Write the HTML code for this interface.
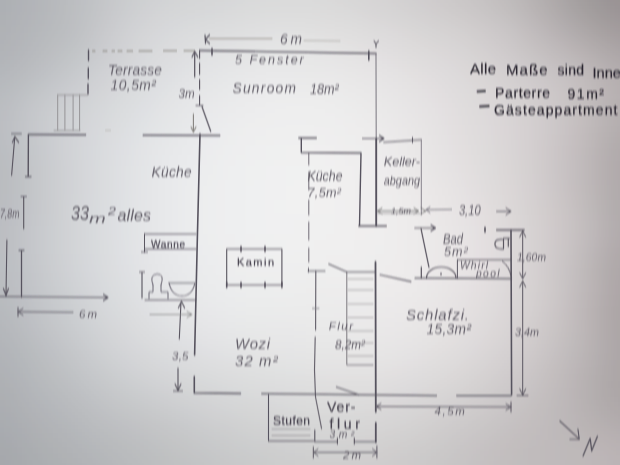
<!DOCTYPE html>
<html><head><meta charset="utf-8">
<style>
html,body{margin:0;padding:0;width:620px;height:465px;overflow:hidden;background:#d0d0d0;}
svg{position:absolute;left:0;top:0;}

text{font-family:"Liberation Sans",sans-serif;}
</style></head><body>
<svg id="bgs" width="620" height="465" viewBox="0 0 620 465"><defs><filter id="bb" x="-10%" y="-10%" width="120%" height="120%"><feGaussianBlur stdDeviation="9"/></filter></defs><g filter="url(#bb)" shape-rendering="crispEdges"><rect x="-40" y="-40" width="20" height="20" fill="#acaeb2"/><rect x="-20" y="-40" width="20" height="20" fill="#acaeb2"/><rect x="0" y="-40" width="20" height="20" fill="#adb0b4"/><rect x="20" y="-40" width="20" height="20" fill="#b1b4b7"/><rect x="40" y="-40" width="20" height="20" fill="#b5b7bb"/><rect x="60" y="-40" width="20" height="20" fill="#babcbf"/><rect x="80" y="-40" width="20" height="20" fill="#bfc1c4"/><rect x="100" y="-40" width="20" height="20" fill="#c5c7c9"/><rect x="120" y="-40" width="20" height="20" fill="#caccce"/><rect x="140" y="-40" width="20" height="20" fill="#ced0d2"/><rect x="160" y="-40" width="20" height="20" fill="#d1d2d4"/><rect x="180" y="-40" width="20" height="20" fill="#d3d4d6"/><rect x="200" y="-40" width="20" height="20" fill="#d5d6d7"/><rect x="220" y="-40" width="20" height="20" fill="#d6d7d8"/><rect x="240" y="-40" width="20" height="20" fill="#d8d8d9"/><rect x="260" y="-40" width="20" height="20" fill="#d9d9d9"/><rect x="280" y="-40" width="20" height="20" fill="#d9d9da"/><rect x="300" y="-40" width="20" height="20" fill="#d9d9d9"/><rect x="320" y="-40" width="20" height="20" fill="#d8d8d8"/><rect x="340" y="-40" width="20" height="20" fill="#d7d6d6"/><rect x="360" y="-40" width="20" height="20" fill="#d5d4d4"/><rect x="380" y="-40" width="20" height="20" fill="#d3d1d1"/><rect x="400" y="-40" width="20" height="20" fill="#d0cecf"/><rect x="420" y="-40" width="20" height="20" fill="#cecbcc"/><rect x="440" y="-40" width="20" height="20" fill="#cbc8c8"/><rect x="460" y="-40" width="20" height="20" fill="#c7c4c4"/><rect x="480" y="-40" width="20" height="20" fill="#c3bfc0"/><rect x="500" y="-40" width="20" height="20" fill="#bdb9ba"/><rect x="520" y="-40" width="20" height="20" fill="#b6b2b2"/><rect x="540" y="-40" width="20" height="20" fill="#aea9aa"/><rect x="560" y="-40" width="20" height="20" fill="#a6a1a2"/><rect x="580" y="-40" width="20" height="20" fill="#9f9a9a"/><rect x="600" y="-40" width="20" height="20" fill="#999394"/><rect x="620" y="-40" width="20" height="20" fill="#979091"/><rect x="640" y="-40" width="20" height="20" fill="#979091"/><rect x="660" y="-40" width="20" height="20" fill="#979091"/><rect x="-40" y="-20" width="20" height="20" fill="#acaeb2"/><rect x="-20" y="-20" width="20" height="20" fill="#acaeb2"/><rect x="0" y="-20" width="20" height="20" fill="#adb0b4"/><rect x="20" y="-20" width="20" height="20" fill="#b1b4b7"/><rect x="40" y="-20" width="20" height="20" fill="#b5b7bb"/><rect x="60" y="-20" width="20" height="20" fill="#babcbf"/><rect x="80" y="-20" width="20" height="20" fill="#bfc1c4"/><rect x="100" y="-20" width="20" height="20" fill="#c5c7c9"/><rect x="120" y="-20" width="20" height="20" fill="#caccce"/><rect x="140" y="-20" width="20" height="20" fill="#ced0d2"/><rect x="160" y="-20" width="20" height="20" fill="#d1d2d4"/><rect x="180" y="-20" width="20" height="20" fill="#d3d4d6"/><rect x="200" y="-20" width="20" height="20" fill="#d5d6d7"/><rect x="220" y="-20" width="20" height="20" fill="#d6d7d8"/><rect x="240" y="-20" width="20" height="20" fill="#d8d8d9"/><rect x="260" y="-20" width="20" height="20" fill="#d9d9d9"/><rect x="280" y="-20" width="20" height="20" fill="#d9d9da"/><rect x="300" y="-20" width="20" height="20" fill="#d9d9d9"/><rect x="320" y="-20" width="20" height="20" fill="#d8d8d8"/><rect x="340" y="-20" width="20" height="20" fill="#d7d6d6"/><rect x="360" y="-20" width="20" height="20" fill="#d5d4d4"/><rect x="380" y="-20" width="20" height="20" fill="#d3d1d1"/><rect x="400" y="-20" width="20" height="20" fill="#d0cecf"/><rect x="420" y="-20" width="20" height="20" fill="#cecbcc"/><rect x="440" y="-20" width="20" height="20" fill="#cbc8c8"/><rect x="460" y="-20" width="20" height="20" fill="#c7c4c4"/><rect x="480" y="-20" width="20" height="20" fill="#c3bfc0"/><rect x="500" y="-20" width="20" height="20" fill="#bdb9ba"/><rect x="520" y="-20" width="20" height="20" fill="#b6b2b2"/><rect x="540" y="-20" width="20" height="20" fill="#aea9aa"/><rect x="560" y="-20" width="20" height="20" fill="#a6a1a2"/><rect x="580" y="-20" width="20" height="20" fill="#9f9a9a"/><rect x="600" y="-20" width="20" height="20" fill="#999394"/><rect x="620" y="-20" width="20" height="20" fill="#979091"/><rect x="640" y="-20" width="20" height="20" fill="#979091"/><rect x="660" y="-20" width="20" height="20" fill="#979091"/><rect x="-40" y="0" width="20" height="20" fill="#acafb3"/><rect x="-20" y="0" width="20" height="20" fill="#acafb3"/><rect x="0" y="0" width="20" height="20" fill="#aeb1b5"/><rect x="20" y="0" width="20" height="20" fill="#b2b4b8"/><rect x="40" y="0" width="20" height="20" fill="#b6b8bb"/><rect x="60" y="0" width="20" height="20" fill="#bbbdc0"/><rect x="80" y="0" width="20" height="20" fill="#c0c2c5"/><rect x="100" y="0" width="20" height="20" fill="#c7c8cb"/><rect x="120" y="0" width="20" height="20" fill="#ccced0"/><rect x="140" y="0" width="20" height="20" fill="#d1d2d4"/><rect x="160" y="0" width="20" height="20" fill="#d4d5d7"/><rect x="180" y="0" width="20" height="20" fill="#d6d7d8"/><rect x="200" y="0" width="20" height="20" fill="#d7d8d9"/><rect x="220" y="0" width="20" height="20" fill="#d9d9da"/><rect x="240" y="0" width="20" height="20" fill="#dadbdb"/><rect x="260" y="0" width="20" height="20" fill="#dbdcdc"/><rect x="280" y="0" width="20" height="20" fill="#dcdcdc"/><rect x="300" y="0" width="20" height="20" fill="#dcdcdc"/><rect x="320" y="0" width="20" height="20" fill="#dbdada"/><rect x="340" y="0" width="20" height="20" fill="#d9d9d9"/><rect x="360" y="0" width="20" height="20" fill="#d8d6d7"/><rect x="380" y="0" width="20" height="20" fill="#d6d4d4"/><rect x="400" y="0" width="20" height="20" fill="#d3d1d2"/><rect x="420" y="0" width="20" height="20" fill="#d1cecf"/><rect x="440" y="0" width="20" height="20" fill="#cecbcb"/><rect x="460" y="0" width="20" height="20" fill="#cbc7c8"/><rect x="480" y="0" width="20" height="20" fill="#c6c3c3"/><rect x="500" y="0" width="20" height="20" fill="#c1bdbd"/><rect x="520" y="0" width="20" height="20" fill="#bab5b6"/><rect x="540" y="0" width="20" height="20" fill="#b2adad"/><rect x="560" y="0" width="20" height="20" fill="#a9a4a5"/><rect x="580" y="0" width="20" height="20" fill="#a29d9d"/><rect x="600" y="0" width="20" height="20" fill="#9c9697"/><rect x="620" y="0" width="20" height="20" fill="#9a9394"/><rect x="640" y="0" width="20" height="20" fill="#9a9394"/><rect x="660" y="0" width="20" height="20" fill="#9a9394"/><rect x="-40" y="20" width="20" height="20" fill="#aeb0b4"/><rect x="-20" y="20" width="20" height="20" fill="#aeb0b4"/><rect x="0" y="20" width="20" height="20" fill="#b0b2b6"/><rect x="20" y="20" width="20" height="20" fill="#b4b6b9"/><rect x="40" y="20" width="20" height="20" fill="#b7babd"/><rect x="60" y="20" width="20" height="20" fill="#bcbec1"/><rect x="80" y="20" width="20" height="20" fill="#c3c4c7"/><rect x="100" y="20" width="20" height="20" fill="#cacbce"/><rect x="120" y="20" width="20" height="20" fill="#d0d1d4"/><rect x="140" y="20" width="20" height="20" fill="#d5d6d8"/><rect x="160" y="20" width="20" height="20" fill="#d8d9db"/><rect x="180" y="20" width="20" height="20" fill="#dadbdd"/><rect x="200" y="20" width="20" height="20" fill="#dcddde"/><rect x="220" y="20" width="20" height="20" fill="#dddedf"/><rect x="240" y="20" width="20" height="20" fill="#dfdfe0"/><rect x="260" y="20" width="20" height="20" fill="#e0e0e1"/><rect x="280" y="20" width="20" height="20" fill="#e1e1e1"/><rect x="300" y="20" width="20" height="20" fill="#e0e0e0"/><rect x="320" y="20" width="20" height="20" fill="#e0dfdf"/><rect x="340" y="20" width="20" height="20" fill="#dfdede"/><rect x="360" y="20" width="20" height="20" fill="#dddcdc"/><rect x="380" y="20" width="20" height="20" fill="#dbd9da"/><rect x="400" y="20" width="20" height="20" fill="#d9d7d7"/><rect x="420" y="20" width="20" height="20" fill="#d6d4d4"/><rect x="440" y="20" width="20" height="20" fill="#d4d1d1"/><rect x="460" y="20" width="20" height="20" fill="#d1cece"/><rect x="480" y="20" width="20" height="20" fill="#cdc9ca"/><rect x="500" y="20" width="20" height="20" fill="#c8c4c5"/><rect x="520" y="20" width="20" height="20" fill="#c1bcbd"/><rect x="540" y="20" width="20" height="20" fill="#b9b4b5"/><rect x="560" y="20" width="20" height="20" fill="#b1acad"/><rect x="580" y="20" width="20" height="20" fill="#aaa5a5"/><rect x="600" y="20" width="20" height="20" fill="#a49e9f"/><rect x="620" y="20" width="20" height="20" fill="#a19a9b"/><rect x="640" y="20" width="20" height="20" fill="#a19a9b"/><rect x="660" y="20" width="20" height="20" fill="#a19a9b"/><rect x="-40" y="40" width="20" height="20" fill="#afb2b6"/><rect x="-20" y="40" width="20" height="20" fill="#afb2b6"/><rect x="0" y="40" width="20" height="20" fill="#b2b4b8"/><rect x="20" y="40" width="20" height="20" fill="#b6b8bc"/><rect x="40" y="40" width="20" height="20" fill="#bbbdc0"/><rect x="60" y="40" width="20" height="20" fill="#c0c2c5"/><rect x="80" y="40" width="20" height="20" fill="#c6c8cb"/><rect x="100" y="40" width="20" height="20" fill="#cdced1"/><rect x="120" y="40" width="20" height="20" fill="#d3d4d6"/><rect x="140" y="40" width="20" height="20" fill="#d8d9db"/><rect x="160" y="40" width="20" height="20" fill="#dbdcde"/><rect x="180" y="40" width="20" height="20" fill="#dedfe0"/><rect x="200" y="40" width="20" height="20" fill="#e0e1e2"/><rect x="220" y="40" width="20" height="20" fill="#e2e2e3"/><rect x="240" y="40" width="20" height="20" fill="#e3e4e4"/><rect x="260" y="40" width="20" height="20" fill="#e4e5e5"/><rect x="280" y="40" width="20" height="20" fill="#e5e5e5"/><rect x="300" y="40" width="20" height="20" fill="#e5e5e5"/><rect x="320" y="40" width="20" height="20" fill="#e4e4e4"/><rect x="340" y="40" width="20" height="20" fill="#e3e2e2"/><rect x="360" y="40" width="20" height="20" fill="#e2e0e1"/><rect x="380" y="40" width="20" height="20" fill="#e0dedf"/><rect x="400" y="40" width="20" height="20" fill="#dedcdc"/><rect x="420" y="40" width="20" height="20" fill="#dcd9d9"/><rect x="440" y="40" width="20" height="20" fill="#d9d6d7"/><rect x="460" y="40" width="20" height="20" fill="#d6d3d3"/><rect x="480" y="40" width="20" height="20" fill="#d2cecf"/><rect x="500" y="40" width="20" height="20" fill="#cdc9ca"/><rect x="520" y="40" width="20" height="20" fill="#c7c3c3"/><rect x="540" y="40" width="20" height="20" fill="#c1bcbd"/><rect x="560" y="40" width="20" height="20" fill="#bbb5b6"/><rect x="580" y="40" width="20" height="20" fill="#b4aeaf"/><rect x="600" y="40" width="20" height="20" fill="#ada7a8"/><rect x="620" y="40" width="20" height="20" fill="#a9a3a4"/><rect x="640" y="40" width="20" height="20" fill="#a9a3a4"/><rect x="660" y="40" width="20" height="20" fill="#a9a3a4"/><rect x="-40" y="60" width="20" height="20" fill="#b2b5b9"/><rect x="-20" y="60" width="20" height="20" fill="#b2b5b9"/><rect x="0" y="60" width="20" height="20" fill="#b5b7bb"/><rect x="20" y="60" width="20" height="20" fill="#babcc0"/><rect x="40" y="60" width="20" height="20" fill="#bfc1c5"/><rect x="60" y="60" width="20" height="20" fill="#c5c7ca"/><rect x="80" y="60" width="20" height="20" fill="#cbcdd0"/><rect x="100" y="60" width="20" height="20" fill="#d1d2d5"/><rect x="120" y="60" width="20" height="20" fill="#d6d7da"/><rect x="140" y="60" width="20" height="20" fill="#dadcde"/><rect x="160" y="60" width="20" height="20" fill="#dedfe1"/><rect x="180" y="60" width="20" height="20" fill="#e1e2e4"/><rect x="200" y="60" width="20" height="20" fill="#e3e4e6"/><rect x="220" y="60" width="20" height="20" fill="#e5e6e7"/><rect x="240" y="60" width="20" height="20" fill="#e7e7e8"/><rect x="260" y="60" width="20" height="20" fill="#e8e8e9"/><rect x="280" y="60" width="20" height="20" fill="#e8e8e9"/><rect x="300" y="60" width="20" height="20" fill="#e8e8e8"/><rect x="320" y="60" width="20" height="20" fill="#e8e7e8"/><rect x="340" y="60" width="20" height="20" fill="#e7e6e6"/><rect x="360" y="60" width="20" height="20" fill="#e6e4e5"/><rect x="380" y="60" width="20" height="20" fill="#e4e2e3"/><rect x="400" y="60" width="20" height="20" fill="#e2e0e0"/><rect x="420" y="60" width="20" height="20" fill="#e0ddde"/><rect x="440" y="60" width="20" height="20" fill="#dddadb"/><rect x="460" y="60" width="20" height="20" fill="#dad7d7"/><rect x="480" y="60" width="20" height="20" fill="#d7d3d3"/><rect x="500" y="60" width="20" height="20" fill="#d2cecf"/><rect x="520" y="60" width="20" height="20" fill="#cdc9ca"/><rect x="540" y="60" width="20" height="20" fill="#c8c3c4"/><rect x="560" y="60" width="20" height="20" fill="#c3bebf"/><rect x="580" y="60" width="20" height="20" fill="#bdb7b8"/><rect x="600" y="60" width="20" height="20" fill="#b5afb0"/><rect x="620" y="60" width="20" height="20" fill="#b1aaab"/><rect x="640" y="60" width="20" height="20" fill="#b1aaab"/><rect x="660" y="60" width="20" height="20" fill="#b1aaab"/><rect x="-40" y="80" width="20" height="20" fill="#b6b9bd"/><rect x="-20" y="80" width="20" height="20" fill="#b6b9bd"/><rect x="0" y="80" width="20" height="20" fill="#b9bcc0"/><rect x="20" y="80" width="20" height="20" fill="#bfc2c5"/><rect x="40" y="80" width="20" height="20" fill="#c5c7cb"/><rect x="60" y="80" width="20" height="20" fill="#cbccd0"/><rect x="80" y="80" width="20" height="20" fill="#d0d1d4"/><rect x="100" y="80" width="20" height="20" fill="#d5d6d9"/><rect x="120" y="80" width="20" height="20" fill="#d9dbdd"/><rect x="140" y="80" width="20" height="20" fill="#dddfe1"/><rect x="160" y="80" width="20" height="20" fill="#e1e2e4"/><rect x="180" y="80" width="20" height="20" fill="#e4e5e7"/><rect x="200" y="80" width="20" height="20" fill="#e6e7e8"/><rect x="220" y="80" width="20" height="20" fill="#e8e9ea"/><rect x="240" y="80" width="20" height="20" fill="#eaeaeb"/><rect x="260" y="80" width="20" height="20" fill="#ebebec"/><rect x="280" y="80" width="20" height="20" fill="#ebebec"/><rect x="300" y="80" width="20" height="20" fill="#ebebeb"/><rect x="320" y="80" width="20" height="20" fill="#ebebeb"/><rect x="340" y="80" width="20" height="20" fill="#eae9e9"/><rect x="360" y="80" width="20" height="20" fill="#e9e8e8"/><rect x="380" y="80" width="20" height="20" fill="#e7e5e6"/><rect x="400" y="80" width="20" height="20" fill="#e5e3e3"/><rect x="420" y="80" width="20" height="20" fill="#e3e0e1"/><rect x="440" y="80" width="20" height="20" fill="#e0ddde"/><rect x="460" y="80" width="20" height="20" fill="#dddada"/><rect x="480" y="80" width="20" height="20" fill="#dad6d7"/><rect x="500" y="80" width="20" height="20" fill="#d6d2d2"/><rect x="520" y="80" width="20" height="20" fill="#d2cdce"/><rect x="540" y="80" width="20" height="20" fill="#cdc8c9"/><rect x="560" y="80" width="20" height="20" fill="#c8c2c3"/><rect x="580" y="80" width="20" height="20" fill="#c1bbbc"/><rect x="600" y="80" width="20" height="20" fill="#b9b3b4"/><rect x="620" y="80" width="20" height="20" fill="#b4aeaf"/><rect x="640" y="80" width="20" height="20" fill="#b4aeaf"/><rect x="660" y="80" width="20" height="20" fill="#b4aeaf"/><rect x="-40" y="100" width="20" height="20" fill="#b9bcc0"/><rect x="-20" y="100" width="20" height="20" fill="#b9bcc0"/><rect x="0" y="100" width="20" height="20" fill="#bdbfc3"/><rect x="20" y="100" width="20" height="20" fill="#c4c6ca"/><rect x="40" y="100" width="20" height="20" fill="#cacccf"/><rect x="60" y="100" width="20" height="20" fill="#cfd1d4"/><rect x="80" y="100" width="20" height="20" fill="#d3d5d8"/><rect x="100" y="100" width="20" height="20" fill="#d8dadc"/><rect x="120" y="100" width="20" height="20" fill="#dcdee0"/><rect x="140" y="100" width="20" height="20" fill="#e0e1e4"/><rect x="160" y="100" width="20" height="20" fill="#e4e5e6"/><rect x="180" y="100" width="20" height="20" fill="#e6e7e9"/><rect x="200" y="100" width="20" height="20" fill="#e9e9eb"/><rect x="220" y="100" width="20" height="20" fill="#ebebec"/><rect x="240" y="100" width="20" height="20" fill="#ececed"/><rect x="260" y="100" width="20" height="20" fill="#ededee"/><rect x="280" y="100" width="20" height="20" fill="#eeeeee"/><rect x="300" y="100" width="20" height="20" fill="#eeeeee"/><rect x="320" y="100" width="20" height="20" fill="#ededed"/><rect x="340" y="100" width="20" height="20" fill="#ececec"/><rect x="360" y="100" width="20" height="20" fill="#ebeaea"/><rect x="380" y="100" width="20" height="20" fill="#e9e8e8"/><rect x="400" y="100" width="20" height="20" fill="#e7e5e6"/><rect x="420" y="100" width="20" height="20" fill="#e5e2e3"/><rect x="440" y="100" width="20" height="20" fill="#e2dfe0"/><rect x="460" y="100" width="20" height="20" fill="#dfdcdc"/><rect x="480" y="100" width="20" height="20" fill="#dcd8d9"/><rect x="500" y="100" width="20" height="20" fill="#d8d4d4"/><rect x="520" y="100" width="20" height="20" fill="#d3cfcf"/><rect x="540" y="100" width="20" height="20" fill="#cec9ca"/><rect x="560" y="100" width="20" height="20" fill="#c8c3c3"/><rect x="580" y="100" width="20" height="20" fill="#c1bbbc"/><rect x="600" y="100" width="20" height="20" fill="#b8b2b3"/><rect x="620" y="100" width="20" height="20" fill="#b4adae"/><rect x="640" y="100" width="20" height="20" fill="#b4adae"/><rect x="660" y="100" width="20" height="20" fill="#b4adae"/><rect x="-40" y="120" width="20" height="20" fill="#babdc1"/><rect x="-20" y="120" width="20" height="20" fill="#babdc1"/><rect x="0" y="120" width="20" height="20" fill="#bec0c4"/><rect x="20" y="120" width="20" height="20" fill="#c5c7ca"/><rect x="40" y="120" width="20" height="20" fill="#cbcdd0"/><rect x="60" y="120" width="20" height="20" fill="#d0d2d6"/><rect x="80" y="120" width="20" height="20" fill="#d6d7da"/><rect x="100" y="120" width="20" height="20" fill="#dadcde"/><rect x="120" y="120" width="20" height="20" fill="#dee0e2"/><rect x="140" y="120" width="20" height="20" fill="#e2e4e6"/><rect x="160" y="120" width="20" height="20" fill="#e5e7e8"/><rect x="180" y="120" width="20" height="20" fill="#e8e9eb"/><rect x="200" y="120" width="20" height="20" fill="#eaebed"/><rect x="220" y="120" width="20" height="20" fill="#ecedee"/><rect x="240" y="120" width="20" height="20" fill="#eeeeef"/><rect x="260" y="120" width="20" height="20" fill="#efefef"/><rect x="280" y="120" width="20" height="20" fill="#efeff0"/><rect x="300" y="120" width="20" height="20" fill="#efefef"/><rect x="320" y="120" width="20" height="20" fill="#efeeef"/><rect x="340" y="120" width="20" height="20" fill="#eeeded"/><rect x="360" y="120" width="20" height="20" fill="#edecec"/><rect x="380" y="120" width="20" height="20" fill="#ebe9ea"/><rect x="400" y="120" width="20" height="20" fill="#e9e7e7"/><rect x="420" y="120" width="20" height="20" fill="#e6e4e4"/><rect x="440" y="120" width="20" height="20" fill="#e3e0e1"/><rect x="460" y="120" width="20" height="20" fill="#e0dddd"/><rect x="480" y="120" width="20" height="20" fill="#ddd9da"/><rect x="500" y="120" width="20" height="20" fill="#d9d4d5"/><rect x="520" y="120" width="20" height="20" fill="#d4cfd0"/><rect x="540" y="120" width="20" height="20" fill="#cec9ca"/><rect x="560" y="120" width="20" height="20" fill="#c7c1c2"/><rect x="580" y="120" width="20" height="20" fill="#bfb9ba"/><rect x="600" y="120" width="20" height="20" fill="#b6b0b1"/><rect x="620" y="120" width="20" height="20" fill="#b2abac"/><rect x="640" y="120" width="20" height="20" fill="#b2abac"/><rect x="660" y="120" width="20" height="20" fill="#b2abac"/><rect x="-40" y="140" width="20" height="20" fill="#b9bbbf"/><rect x="-20" y="140" width="20" height="20" fill="#b9bbbf"/><rect x="0" y="140" width="20" height="20" fill="#bcbfc3"/><rect x="20" y="140" width="20" height="20" fill="#c3c6c9"/><rect x="40" y="140" width="20" height="20" fill="#caccd0"/><rect x="60" y="140" width="20" height="20" fill="#d1d3d6"/><rect x="80" y="140" width="20" height="20" fill="#d6d8db"/><rect x="100" y="140" width="20" height="20" fill="#dbdde0"/><rect x="120" y="140" width="20" height="20" fill="#e0e1e4"/><rect x="140" y="140" width="20" height="20" fill="#e4e5e7"/><rect x="160" y="140" width="20" height="20" fill="#e7e8ea"/><rect x="180" y="140" width="20" height="20" fill="#e9eaec"/><rect x="200" y="140" width="20" height="20" fill="#ececee"/><rect x="220" y="140" width="20" height="20" fill="#edeeef"/><rect x="240" y="140" width="20" height="20" fill="#efeff0"/><rect x="260" y="140" width="20" height="20" fill="#eff0f0"/><rect x="280" y="140" width="20" height="20" fill="#f0f0f0"/><rect x="300" y="140" width="20" height="20" fill="#f0f0f0"/><rect x="320" y="140" width="20" height="20" fill="#f0eff0"/><rect x="340" y="140" width="20" height="20" fill="#efeeee"/><rect x="360" y="140" width="20" height="20" fill="#eeeded"/><rect x="380" y="140" width="20" height="20" fill="#eceaeb"/><rect x="400" y="140" width="20" height="20" fill="#eae8e8"/><rect x="420" y="140" width="20" height="20" fill="#e7e5e5"/><rect x="440" y="140" width="20" height="20" fill="#e4e1e2"/><rect x="460" y="140" width="20" height="20" fill="#e1dede"/><rect x="480" y="140" width="20" height="20" fill="#dddada"/><rect x="500" y="140" width="20" height="20" fill="#d9d5d6"/><rect x="520" y="140" width="20" height="20" fill="#d4cfd0"/><rect x="540" y="140" width="20" height="20" fill="#cdc8c9"/><rect x="560" y="140" width="20" height="20" fill="#c6c0c1"/><rect x="580" y="140" width="20" height="20" fill="#bdb7b8"/><rect x="600" y="140" width="20" height="20" fill="#b3adae"/><rect x="620" y="140" width="20" height="20" fill="#afa8a9"/><rect x="640" y="140" width="20" height="20" fill="#afa8a9"/><rect x="660" y="140" width="20" height="20" fill="#afa8a9"/><rect x="-40" y="160" width="20" height="20" fill="#b8babe"/><rect x="-20" y="160" width="20" height="20" fill="#b8babe"/><rect x="0" y="160" width="20" height="20" fill="#bbbdc1"/><rect x="20" y="160" width="20" height="20" fill="#c2c5c8"/><rect x="40" y="160" width="20" height="20" fill="#cacccf"/><rect x="60" y="160" width="20" height="20" fill="#d0d2d5"/><rect x="80" y="160" width="20" height="20" fill="#d7d8db"/><rect x="100" y="160" width="20" height="20" fill="#dcdee0"/><rect x="120" y="160" width="20" height="20" fill="#e1e2e4"/><rect x="140" y="160" width="20" height="20" fill="#e4e6e8"/><rect x="160" y="160" width="20" height="20" fill="#e8e9eb"/><rect x="180" y="160" width="20" height="20" fill="#eaebed"/><rect x="200" y="160" width="20" height="20" fill="#ecedee"/><rect x="220" y="160" width="20" height="20" fill="#eeeff0"/><rect x="240" y="160" width="20" height="20" fill="#eff0f0"/><rect x="260" y="160" width="20" height="20" fill="#f0f0f1"/><rect x="280" y="160" width="20" height="20" fill="#f0f1f1"/><rect x="300" y="160" width="20" height="20" fill="#f1f1f1"/><rect x="320" y="160" width="20" height="20" fill="#f0f0f0"/><rect x="340" y="160" width="20" height="20" fill="#f0efef"/><rect x="360" y="160" width="20" height="20" fill="#efedee"/><rect x="380" y="160" width="20" height="20" fill="#edebec"/><rect x="400" y="160" width="20" height="20" fill="#ebe9e9"/><rect x="420" y="160" width="20" height="20" fill="#e8e6e6"/><rect x="440" y="160" width="20" height="20" fill="#e5e2e3"/><rect x="460" y="160" width="20" height="20" fill="#e2dfdf"/><rect x="480" y="160" width="20" height="20" fill="#dedbdb"/><rect x="500" y="160" width="20" height="20" fill="#dad6d6"/><rect x="520" y="160" width="20" height="20" fill="#d4d0d0"/><rect x="540" y="160" width="20" height="20" fill="#cdc8c9"/><rect x="560" y="160" width="20" height="20" fill="#c5c0c1"/><rect x="580" y="160" width="20" height="20" fill="#bcb6b7"/><rect x="600" y="160" width="20" height="20" fill="#b3acad"/><rect x="620" y="160" width="20" height="20" fill="#aea8a9"/><rect x="640" y="160" width="20" height="20" fill="#aea8a9"/><rect x="660" y="160" width="20" height="20" fill="#aea8a9"/><rect x="-40" y="180" width="20" height="20" fill="#b8babe"/><rect x="-20" y="180" width="20" height="20" fill="#b8babe"/><rect x="0" y="180" width="20" height="20" fill="#bbbec1"/><rect x="20" y="180" width="20" height="20" fill="#c2c5c8"/><rect x="40" y="180" width="20" height="20" fill="#cacccf"/><rect x="60" y="180" width="20" height="20" fill="#d0d2d5"/><rect x="80" y="180" width="20" height="20" fill="#d7d8db"/><rect x="100" y="180" width="20" height="20" fill="#dcdee0"/><rect x="120" y="180" width="20" height="20" fill="#e1e2e5"/><rect x="140" y="180" width="20" height="20" fill="#e5e6e8"/><rect x="160" y="180" width="20" height="20" fill="#e8e9eb"/><rect x="180" y="180" width="20" height="20" fill="#ebeced"/><rect x="200" y="180" width="20" height="20" fill="#edeeef"/><rect x="220" y="180" width="20" height="20" fill="#eeeff0"/><rect x="240" y="180" width="20" height="20" fill="#eff0f1"/><rect x="260" y="180" width="20" height="20" fill="#f0f0f1"/><rect x="280" y="180" width="20" height="20" fill="#f1f1f1"/><rect x="300" y="180" width="20" height="20" fill="#f1f1f1"/><rect x="320" y="180" width="20" height="20" fill="#f1f0f0"/><rect x="340" y="180" width="20" height="20" fill="#f0efef"/><rect x="360" y="180" width="20" height="20" fill="#efeeee"/><rect x="380" y="180" width="20" height="20" fill="#eeecec"/><rect x="400" y="180" width="20" height="20" fill="#eceaea"/><rect x="420" y="180" width="20" height="20" fill="#eae7e7"/><rect x="440" y="180" width="20" height="20" fill="#e7e4e4"/><rect x="460" y="180" width="20" height="20" fill="#e3e0e1"/><rect x="480" y="180" width="20" height="20" fill="#dfdcdc"/><rect x="500" y="180" width="20" height="20" fill="#dbd7d7"/><rect x="520" y="180" width="20" height="20" fill="#d5d0d1"/><rect x="540" y="180" width="20" height="20" fill="#cec9ca"/><rect x="560" y="180" width="20" height="20" fill="#c6c0c1"/><rect x="580" y="180" width="20" height="20" fill="#bdb7b8"/><rect x="600" y="180" width="20" height="20" fill="#b3adae"/><rect x="620" y="180" width="20" height="20" fill="#aea8a9"/><rect x="640" y="180" width="20" height="20" fill="#aea8a9"/><rect x="660" y="180" width="20" height="20" fill="#aea8a9"/><rect x="-40" y="200" width="20" height="20" fill="#b9bbbf"/><rect x="-20" y="200" width="20" height="20" fill="#b9bbbf"/><rect x="0" y="200" width="20" height="20" fill="#bcbec2"/><rect x="20" y="200" width="20" height="20" fill="#c3c5c9"/><rect x="40" y="200" width="20" height="20" fill="#cacccf"/><rect x="60" y="200" width="20" height="20" fill="#d1d3d6"/><rect x="80" y="200" width="20" height="20" fill="#d7d9dc"/><rect x="100" y="200" width="20" height="20" fill="#dcdee1"/><rect x="120" y="200" width="20" height="20" fill="#e1e3e5"/><rect x="140" y="200" width="20" height="20" fill="#e5e6e8"/><rect x="160" y="200" width="20" height="20" fill="#e8e9eb"/><rect x="180" y="200" width="20" height="20" fill="#ebeced"/><rect x="200" y="200" width="20" height="20" fill="#edeeef"/><rect x="220" y="200" width="20" height="20" fill="#eeeff0"/><rect x="240" y="200" width="20" height="20" fill="#eff0f1"/><rect x="260" y="200" width="20" height="20" fill="#f0f1f1"/><rect x="280" y="200" width="20" height="20" fill="#f1f1f1"/><rect x="300" y="200" width="20" height="20" fill="#f1f1f1"/><rect x="320" y="200" width="20" height="20" fill="#f1f0f0"/><rect x="340" y="200" width="20" height="20" fill="#f0eff0"/><rect x="360" y="200" width="20" height="20" fill="#f0eeee"/><rect x="380" y="200" width="20" height="20" fill="#eeeded"/><rect x="400" y="200" width="20" height="20" fill="#edebeb"/><rect x="420" y="200" width="20" height="20" fill="#ebe8e8"/><rect x="440" y="200" width="20" height="20" fill="#e8e5e5"/><rect x="460" y="200" width="20" height="20" fill="#e5e1e2"/><rect x="480" y="200" width="20" height="20" fill="#e1dddd"/><rect x="500" y="200" width="20" height="20" fill="#dcd8d8"/><rect x="520" y="200" width="20" height="20" fill="#d6d2d2"/><rect x="540" y="200" width="20" height="20" fill="#d0cbcb"/><rect x="560" y="200" width="20" height="20" fill="#c8c2c3"/><rect x="580" y="200" width="20" height="20" fill="#beb9b9"/><rect x="600" y="200" width="20" height="20" fill="#b4aeaf"/><rect x="620" y="200" width="20" height="20" fill="#afa9aa"/><rect x="640" y="200" width="20" height="20" fill="#afa9aa"/><rect x="660" y="200" width="20" height="20" fill="#afa9aa"/><rect x="-40" y="220" width="20" height="20" fill="#b9bcc0"/><rect x="-20" y="220" width="20" height="20" fill="#b9bcc0"/><rect x="0" y="220" width="20" height="20" fill="#bdbfc3"/><rect x="20" y="220" width="20" height="20" fill="#c4c6ca"/><rect x="40" y="220" width="20" height="20" fill="#cbcdd0"/><rect x="60" y="220" width="20" height="20" fill="#d1d3d6"/><rect x="80" y="220" width="20" height="20" fill="#d7d9dc"/><rect x="100" y="220" width="20" height="20" fill="#dddee1"/><rect x="120" y="220" width="20" height="20" fill="#e1e3e5"/><rect x="140" y="220" width="20" height="20" fill="#e5e6e8"/><rect x="160" y="220" width="20" height="20" fill="#e8e9eb"/><rect x="180" y="220" width="20" height="20" fill="#ebeced"/><rect x="200" y="220" width="20" height="20" fill="#edeeef"/><rect x="220" y="220" width="20" height="20" fill="#eeeff0"/><rect x="240" y="220" width="20" height="20" fill="#eff0f1"/><rect x="260" y="220" width="20" height="20" fill="#f0f0f1"/><rect x="280" y="220" width="20" height="20" fill="#f0f0f1"/><rect x="300" y="220" width="20" height="20" fill="#f0f0f0"/><rect x="320" y="220" width="20" height="20" fill="#f0f0f0"/><rect x="340" y="220" width="20" height="20" fill="#f0efef"/><rect x="360" y="220" width="20" height="20" fill="#f0eeee"/><rect x="380" y="220" width="20" height="20" fill="#efeded"/><rect x="400" y="220" width="20" height="20" fill="#edebeb"/><rect x="420" y="220" width="20" height="20" fill="#ebe9e9"/><rect x="440" y="220" width="20" height="20" fill="#e9e6e6"/><rect x="460" y="220" width="20" height="20" fill="#e5e2e3"/><rect x="480" y="220" width="20" height="20" fill="#e2dede"/><rect x="500" y="220" width="20" height="20" fill="#ddd9d9"/><rect x="520" y="220" width="20" height="20" fill="#d7d3d3"/><rect x="540" y="220" width="20" height="20" fill="#d1cbcc"/><rect x="560" y="220" width="20" height="20" fill="#c9c3c4"/><rect x="580" y="220" width="20" height="20" fill="#c0babb"/><rect x="600" y="220" width="20" height="20" fill="#b5afb0"/><rect x="620" y="220" width="20" height="20" fill="#b0a9aa"/><rect x="640" y="220" width="20" height="20" fill="#b0a9aa"/><rect x="660" y="220" width="20" height="20" fill="#b0a9aa"/><rect x="-40" y="240" width="20" height="20" fill="#babcc0"/><rect x="-20" y="240" width="20" height="20" fill="#babcc0"/><rect x="0" y="240" width="20" height="20" fill="#bdbfc3"/><rect x="20" y="240" width="20" height="20" fill="#c4c6ca"/><rect x="40" y="240" width="20" height="20" fill="#cbcdd0"/><rect x="60" y="240" width="20" height="20" fill="#d1d3d6"/><rect x="80" y="240" width="20" height="20" fill="#d7d9dc"/><rect x="100" y="240" width="20" height="20" fill="#dcdee0"/><rect x="120" y="240" width="20" height="20" fill="#e1e2e5"/><rect x="140" y="240" width="20" height="20" fill="#e5e6e8"/><rect x="160" y="240" width="20" height="20" fill="#e8e9eb"/><rect x="180" y="240" width="20" height="20" fill="#eaebed"/><rect x="200" y="240" width="20" height="20" fill="#ecedee"/><rect x="220" y="240" width="20" height="20" fill="#eeeeef"/><rect x="240" y="240" width="20" height="20" fill="#efeff0"/><rect x="260" y="240" width="20" height="20" fill="#eff0f0"/><rect x="280" y="240" width="20" height="20" fill="#f0f0f0"/><rect x="300" y="240" width="20" height="20" fill="#f0f0f0"/><rect x="320" y="240" width="20" height="20" fill="#f0efef"/><rect x="340" y="240" width="20" height="20" fill="#f0efef"/><rect x="360" y="240" width="20" height="20" fill="#efeeee"/><rect x="380" y="240" width="20" height="20" fill="#eeeded"/><rect x="400" y="240" width="20" height="20" fill="#edebeb"/><rect x="420" y="240" width="20" height="20" fill="#ebe9e9"/><rect x="440" y="240" width="20" height="20" fill="#e9e6e6"/><rect x="460" y="240" width="20" height="20" fill="#e6e2e3"/><rect x="480" y="240" width="20" height="20" fill="#e2dedf"/><rect x="500" y="240" width="20" height="20" fill="#ddd9da"/><rect x="520" y="240" width="20" height="20" fill="#d7d3d3"/><rect x="540" y="240" width="20" height="20" fill="#d0cbcc"/><rect x="560" y="240" width="20" height="20" fill="#c8c2c3"/><rect x="580" y="240" width="20" height="20" fill="#bdb8b9"/><rect x="600" y="240" width="20" height="20" fill="#b3acad"/><rect x="620" y="240" width="20" height="20" fill="#ada7a8"/><rect x="640" y="240" width="20" height="20" fill="#ada7a8"/><rect x="660" y="240" width="20" height="20" fill="#ada7a8"/><rect x="-40" y="260" width="20" height="20" fill="#b9bcc0"/><rect x="-20" y="260" width="20" height="20" fill="#b9bcc0"/><rect x="0" y="260" width="20" height="20" fill="#bcbfc3"/><rect x="20" y="260" width="20" height="20" fill="#c3c5c9"/><rect x="40" y="260" width="20" height="20" fill="#cacccf"/><rect x="60" y="260" width="20" height="20" fill="#d0d2d5"/><rect x="80" y="260" width="20" height="20" fill="#d6d8db"/><rect x="100" y="260" width="20" height="20" fill="#dbdddf"/><rect x="120" y="260" width="20" height="20" fill="#e0e1e4"/><rect x="140" y="260" width="20" height="20" fill="#e4e5e7"/><rect x="160" y="260" width="20" height="20" fill="#e7e8ea"/><rect x="180" y="260" width="20" height="20" fill="#e9eaec"/><rect x="200" y="260" width="20" height="20" fill="#ebeced"/><rect x="220" y="260" width="20" height="20" fill="#ededee"/><rect x="240" y="260" width="20" height="20" fill="#eeeeef"/><rect x="260" y="260" width="20" height="20" fill="#eeeeef"/><rect x="280" y="260" width="20" height="20" fill="#eeeeef"/><rect x="300" y="260" width="20" height="20" fill="#eeeeee"/><rect x="320" y="260" width="20" height="20" fill="#eeeeee"/><rect x="340" y="260" width="20" height="20" fill="#eeeeee"/><rect x="360" y="260" width="20" height="20" fill="#eeeded"/><rect x="380" y="260" width="20" height="20" fill="#eeecec"/><rect x="400" y="260" width="20" height="20" fill="#edebeb"/><rect x="420" y="260" width="20" height="20" fill="#ebe8e9"/><rect x="440" y="260" width="20" height="20" fill="#e9e6e6"/><rect x="460" y="260" width="20" height="20" fill="#e6e2e3"/><rect x="480" y="260" width="20" height="20" fill="#e2dedf"/><rect x="500" y="260" width="20" height="20" fill="#ddd9d9"/><rect x="520" y="260" width="20" height="20" fill="#d7d2d3"/><rect x="540" y="260" width="20" height="20" fill="#cfcacb"/><rect x="560" y="260" width="20" height="20" fill="#c6c1c2"/><rect x="580" y="260" width="20" height="20" fill="#bbb6b6"/><rect x="600" y="260" width="20" height="20" fill="#b0aaab"/><rect x="620" y="260" width="20" height="20" fill="#aca5a6"/><rect x="640" y="260" width="20" height="20" fill="#aca5a6"/><rect x="660" y="260" width="20" height="20" fill="#aca5a6"/><rect x="-40" y="280" width="20" height="20" fill="#b8babe"/><rect x="-20" y="280" width="20" height="20" fill="#b8babe"/><rect x="0" y="280" width="20" height="20" fill="#bbbdc1"/><rect x="20" y="280" width="20" height="20" fill="#c1c3c7"/><rect x="40" y="280" width="20" height="20" fill="#c8cacd"/><rect x="60" y="280" width="20" height="20" fill="#ced0d3"/><rect x="80" y="280" width="20" height="20" fill="#d4d6d9"/><rect x="100" y="280" width="20" height="20" fill="#d9dbde"/><rect x="120" y="280" width="20" height="20" fill="#dee0e2"/><rect x="140" y="280" width="20" height="20" fill="#e2e3e5"/><rect x="160" y="280" width="20" height="20" fill="#e5e6e8"/><rect x="180" y="280" width="20" height="20" fill="#e8e9ea"/><rect x="200" y="280" width="20" height="20" fill="#eaebec"/><rect x="220" y="280" width="20" height="20" fill="#ebeced"/><rect x="240" y="280" width="20" height="20" fill="#eceded"/><rect x="260" y="280" width="20" height="20" fill="#eceded"/><rect x="280" y="280" width="20" height="20" fill="#ededed"/><rect x="300" y="280" width="20" height="20" fill="#ececec"/><rect x="320" y="280" width="20" height="20" fill="#edecec"/><rect x="340" y="280" width="20" height="20" fill="#edecec"/><rect x="360" y="280" width="20" height="20" fill="#edecec"/><rect x="380" y="280" width="20" height="20" fill="#edebeb"/><rect x="400" y="280" width="20" height="20" fill="#eceaea"/><rect x="420" y="280" width="20" height="20" fill="#eae8e8"/><rect x="440" y="280" width="20" height="20" fill="#e8e5e5"/><rect x="460" y="280" width="20" height="20" fill="#e5e1e2"/><rect x="480" y="280" width="20" height="20" fill="#e1ddde"/><rect x="500" y="280" width="20" height="20" fill="#dcd8d8"/><rect x="520" y="280" width="20" height="20" fill="#d6d1d2"/><rect x="540" y="280" width="20" height="20" fill="#cfcaca"/><rect x="560" y="280" width="20" height="20" fill="#c5c0c1"/><rect x="580" y="280" width="20" height="20" fill="#bbb5b6"/><rect x="600" y="280" width="20" height="20" fill="#b0a9aa"/><rect x="620" y="280" width="20" height="20" fill="#aba4a5"/><rect x="640" y="280" width="20" height="20" fill="#aba4a5"/><rect x="660" y="280" width="20" height="20" fill="#aba4a5"/><rect x="-40" y="300" width="20" height="20" fill="#b5b8bc"/><rect x="-20" y="300" width="20" height="20" fill="#b5b8bc"/><rect x="0" y="300" width="20" height="20" fill="#b8bbbf"/><rect x="20" y="300" width="20" height="20" fill="#bfc1c5"/><rect x="40" y="300" width="20" height="20" fill="#c5c7cb"/><rect x="60" y="300" width="20" height="20" fill="#cbcdd0"/><rect x="80" y="300" width="20" height="20" fill="#d1d3d6"/><rect x="100" y="300" width="20" height="20" fill="#d7d9db"/><rect x="120" y="300" width="20" height="20" fill="#dcdddf"/><rect x="140" y="300" width="20" height="20" fill="#e0e1e3"/><rect x="160" y="300" width="20" height="20" fill="#e3e4e6"/><rect x="180" y="300" width="20" height="20" fill="#e6e7e8"/><rect x="200" y="300" width="20" height="20" fill="#e8e8ea"/><rect x="220" y="300" width="20" height="20" fill="#e9eaeb"/><rect x="240" y="300" width="20" height="20" fill="#eaebeb"/><rect x="260" y="300" width="20" height="20" fill="#eaebeb"/><rect x="280" y="300" width="20" height="20" fill="#ebebeb"/><rect x="300" y="300" width="20" height="20" fill="#ebebeb"/><rect x="320" y="300" width="20" height="20" fill="#ebebeb"/><rect x="340" y="300" width="20" height="20" fill="#ebeaeb"/><rect x="360" y="300" width="20" height="20" fill="#ebeaea"/><rect x="380" y="300" width="20" height="20" fill="#ebe9ea"/><rect x="400" y="300" width="20" height="20" fill="#eae8e8"/><rect x="420" y="300" width="20" height="20" fill="#e9e6e6"/><rect x="440" y="300" width="20" height="20" fill="#e6e3e4"/><rect x="460" y="300" width="20" height="20" fill="#e3e0e0"/><rect x="480" y="300" width="20" height="20" fill="#dfdbdc"/><rect x="500" y="300" width="20" height="20" fill="#dad6d7"/><rect x="520" y="300" width="20" height="20" fill="#d4d0d0"/><rect x="540" y="300" width="20" height="20" fill="#cdc8c9"/><rect x="560" y="300" width="20" height="20" fill="#c4bebf"/><rect x="580" y="300" width="20" height="20" fill="#b9b3b4"/><rect x="600" y="300" width="20" height="20" fill="#afa8a9"/><rect x="620" y="300" width="20" height="20" fill="#aaa3a4"/><rect x="640" y="300" width="20" height="20" fill="#aaa3a4"/><rect x="660" y="300" width="20" height="20" fill="#aaa3a4"/><rect x="-40" y="320" width="20" height="20" fill="#b3b5b9"/><rect x="-20" y="320" width="20" height="20" fill="#b3b5b9"/><rect x="0" y="320" width="20" height="20" fill="#b6b8bc"/><rect x="20" y="320" width="20" height="20" fill="#bcbec2"/><rect x="40" y="320" width="20" height="20" fill="#c2c4c7"/><rect x="60" y="320" width="20" height="20" fill="#c8cacd"/><rect x="80" y="320" width="20" height="20" fill="#ced0d3"/><rect x="100" y="320" width="20" height="20" fill="#d4d5d8"/><rect x="120" y="320" width="20" height="20" fill="#d9dadc"/><rect x="140" y="320" width="20" height="20" fill="#dddee0"/><rect x="160" y="320" width="20" height="20" fill="#e0e1e3"/><rect x="180" y="320" width="20" height="20" fill="#e3e3e5"/><rect x="200" y="320" width="20" height="20" fill="#e5e5e7"/><rect x="220" y="320" width="20" height="20" fill="#e6e7e8"/><rect x="240" y="320" width="20" height="20" fill="#e7e8e8"/><rect x="260" y="320" width="20" height="20" fill="#e8e8e9"/><rect x="280" y="320" width="20" height="20" fill="#e8e8e9"/><rect x="300" y="320" width="20" height="20" fill="#e9e9e9"/><rect x="320" y="320" width="20" height="20" fill="#e9e9e9"/><rect x="340" y="320" width="20" height="20" fill="#e9e9e9"/><rect x="360" y="320" width="20" height="20" fill="#e9e8e8"/><rect x="380" y="320" width="20" height="20" fill="#e9e7e8"/><rect x="400" y="320" width="20" height="20" fill="#e8e6e6"/><rect x="420" y="320" width="20" height="20" fill="#e6e4e4"/><rect x="440" y="320" width="20" height="20" fill="#e4e1e1"/><rect x="460" y="320" width="20" height="20" fill="#e1ddde"/><rect x="480" y="320" width="20" height="20" fill="#ddd9d9"/><rect x="500" y="320" width="20" height="20" fill="#d8d3d4"/><rect x="520" y="320" width="20" height="20" fill="#d2cdce"/><rect x="540" y="320" width="20" height="20" fill="#cbc6c6"/><rect x="560" y="320" width="20" height="20" fill="#c2bdbe"/><rect x="580" y="320" width="20" height="20" fill="#b9b3b4"/><rect x="600" y="320" width="20" height="20" fill="#afa8a9"/><rect x="620" y="320" width="20" height="20" fill="#aaa4a5"/><rect x="640" y="320" width="20" height="20" fill="#aaa4a5"/><rect x="660" y="320" width="20" height="20" fill="#aaa4a5"/><rect x="-40" y="340" width="20" height="20" fill="#b0b3b7"/><rect x="-20" y="340" width="20" height="20" fill="#b0b3b7"/><rect x="0" y="340" width="20" height="20" fill="#b3b5b9"/><rect x="20" y="340" width="20" height="20" fill="#b8bbbe"/><rect x="40" y="340" width="20" height="20" fill="#bec0c4"/><rect x="60" y="340" width="20" height="20" fill="#c4c6c9"/><rect x="80" y="340" width="20" height="20" fill="#cacccf"/><rect x="100" y="340" width="20" height="20" fill="#d0d2d4"/><rect x="120" y="340" width="20" height="20" fill="#d5d6d9"/><rect x="140" y="340" width="20" height="20" fill="#d9dadc"/><rect x="160" y="340" width="20" height="20" fill="#dcdddf"/><rect x="180" y="340" width="20" height="20" fill="#dedfe1"/><rect x="200" y="340" width="20" height="20" fill="#e1e1e3"/><rect x="220" y="340" width="20" height="20" fill="#e2e3e4"/><rect x="240" y="340" width="20" height="20" fill="#e4e4e5"/><rect x="260" y="340" width="20" height="20" fill="#e5e5e5"/><rect x="280" y="340" width="20" height="20" fill="#e5e5e6"/><rect x="300" y="340" width="20" height="20" fill="#e6e6e6"/><rect x="320" y="340" width="20" height="20" fill="#e6e6e6"/><rect x="340" y="340" width="20" height="20" fill="#e7e6e6"/><rect x="360" y="340" width="20" height="20" fill="#e7e6e6"/><rect x="380" y="340" width="20" height="20" fill="#e6e5e5"/><rect x="400" y="340" width="20" height="20" fill="#e5e3e4"/><rect x="420" y="340" width="20" height="20" fill="#e3e1e1"/><rect x="440" y="340" width="20" height="20" fill="#e1dede"/><rect x="460" y="340" width="20" height="20" fill="#dddadb"/><rect x="480" y="340" width="20" height="20" fill="#d9d5d6"/><rect x="500" y="340" width="20" height="20" fill="#d4d0d1"/><rect x="520" y="340" width="20" height="20" fill="#cfcacb"/><rect x="540" y="340" width="20" height="20" fill="#c8c3c4"/><rect x="560" y="340" width="20" height="20" fill="#c0bbbc"/><rect x="580" y="340" width="20" height="20" fill="#b8b2b3"/><rect x="600" y="340" width="20" height="20" fill="#afa9aa"/><rect x="620" y="340" width="20" height="20" fill="#aba4a5"/><rect x="640" y="340" width="20" height="20" fill="#aba4a5"/><rect x="660" y="340" width="20" height="20" fill="#aba4a5"/><rect x="-40" y="360" width="20" height="20" fill="#aeb0b4"/><rect x="-20" y="360" width="20" height="20" fill="#aeb0b4"/><rect x="0" y="360" width="20" height="20" fill="#b0b3b7"/><rect x="20" y="360" width="20" height="20" fill="#b5b8bb"/><rect x="40" y="360" width="20" height="20" fill="#bbbdc0"/><rect x="60" y="360" width="20" height="20" fill="#c0c2c5"/><rect x="80" y="360" width="20" height="20" fill="#c6c8cb"/><rect x="100" y="360" width="20" height="20" fill="#cbcdcf"/><rect x="120" y="360" width="20" height="20" fill="#d0d1d4"/><rect x="140" y="360" width="20" height="20" fill="#d4d5d7"/><rect x="160" y="360" width="20" height="20" fill="#d7d8da"/><rect x="180" y="360" width="20" height="20" fill="#d9dadc"/><rect x="200" y="360" width="20" height="20" fill="#dcddde"/><rect x="220" y="360" width="20" height="20" fill="#dededf"/><rect x="240" y="360" width="20" height="20" fill="#dfe0e0"/><rect x="260" y="360" width="20" height="20" fill="#e0e1e1"/><rect x="280" y="360" width="20" height="20" fill="#e1e2e2"/><rect x="300" y="360" width="20" height="20" fill="#e2e2e2"/><rect x="320" y="360" width="20" height="20" fill="#e3e2e3"/><rect x="340" y="360" width="20" height="20" fill="#e3e2e2"/><rect x="360" y="360" width="20" height="20" fill="#e3e2e2"/><rect x="380" y="360" width="20" height="20" fill="#e3e1e1"/><rect x="400" y="360" width="20" height="20" fill="#e1dfe0"/><rect x="420" y="360" width="20" height="20" fill="#dfdddd"/><rect x="440" y="360" width="20" height="20" fill="#dddada"/><rect x="460" y="360" width="20" height="20" fill="#d9d6d6"/><rect x="480" y="360" width="20" height="20" fill="#d5d1d2"/><rect x="500" y="360" width="20" height="20" fill="#d0cccd"/><rect x="520" y="360" width="20" height="20" fill="#cbc6c7"/><rect x="540" y="360" width="20" height="20" fill="#c5c0c0"/><rect x="560" y="360" width="20" height="20" fill="#beb8b9"/><rect x="580" y="360" width="20" height="20" fill="#b6b0b1"/><rect x="600" y="360" width="20" height="20" fill="#aea8a9"/><rect x="620" y="360" width="20" height="20" fill="#aaa4a5"/><rect x="640" y="360" width="20" height="20" fill="#aaa4a5"/><rect x="660" y="360" width="20" height="20" fill="#aaa4a5"/><rect x="-40" y="380" width="20" height="20" fill="#acaeb2"/><rect x="-20" y="380" width="20" height="20" fill="#acaeb2"/><rect x="0" y="380" width="20" height="20" fill="#aeb0b4"/><rect x="20" y="380" width="20" height="20" fill="#b3b5b9"/><rect x="40" y="380" width="20" height="20" fill="#b7babd"/><rect x="60" y="380" width="20" height="20" fill="#bcbec1"/><rect x="80" y="380" width="20" height="20" fill="#c1c3c6"/><rect x="100" y="380" width="20" height="20" fill="#c6c8ca"/><rect x="120" y="380" width="20" height="20" fill="#caccce"/><rect x="140" y="380" width="20" height="20" fill="#cecfd1"/><rect x="160" y="380" width="20" height="20" fill="#d1d2d4"/><rect x="180" y="380" width="20" height="20" fill="#d4d5d6"/><rect x="200" y="380" width="20" height="20" fill="#d6d7d8"/><rect x="220" y="380" width="20" height="20" fill="#d8d9da"/><rect x="240" y="380" width="20" height="20" fill="#dadbdc"/><rect x="260" y="380" width="20" height="20" fill="#dcdcdd"/><rect x="280" y="380" width="20" height="20" fill="#ddddde"/><rect x="300" y="380" width="20" height="20" fill="#dedede"/><rect x="320" y="380" width="20" height="20" fill="#dfdede"/><rect x="340" y="380" width="20" height="20" fill="#dfdede"/><rect x="360" y="380" width="20" height="20" fill="#dfdede"/><rect x="380" y="380" width="20" height="20" fill="#dedcdd"/><rect x="400" y="380" width="20" height="20" fill="#dcdadb"/><rect x="420" y="380" width="20" height="20" fill="#dad8d8"/><rect x="440" y="380" width="20" height="20" fill="#d8d5d5"/><rect x="460" y="380" width="20" height="20" fill="#d4d1d1"/><rect x="480" y="380" width="20" height="20" fill="#d0cdcd"/><rect x="500" y="380" width="20" height="20" fill="#ccc8c9"/><rect x="520" y="380" width="20" height="20" fill="#c7c3c4"/><rect x="540" y="380" width="20" height="20" fill="#c2bdbe"/><rect x="560" y="380" width="20" height="20" fill="#bcb6b7"/><rect x="580" y="380" width="20" height="20" fill="#b4afaf"/><rect x="600" y="380" width="20" height="20" fill="#ada7a8"/><rect x="620" y="380" width="20" height="20" fill="#aaa4a5"/><rect x="640" y="380" width="20" height="20" fill="#aaa4a5"/><rect x="660" y="380" width="20" height="20" fill="#aaa4a5"/><rect x="-40" y="400" width="20" height="20" fill="#aaacb0"/><rect x="-20" y="400" width="20" height="20" fill="#aaacb0"/><rect x="0" y="400" width="20" height="20" fill="#acaeb2"/><rect x="20" y="400" width="20" height="20" fill="#b0b2b6"/><rect x="40" y="400" width="20" height="20" fill="#b4b6ba"/><rect x="60" y="400" width="20" height="20" fill="#b8babd"/><rect x="80" y="400" width="20" height="20" fill="#bcbec1"/><rect x="100" y="400" width="20" height="20" fill="#c1c2c5"/><rect x="120" y="400" width="20" height="20" fill="#c4c6c8"/><rect x="140" y="400" width="20" height="20" fill="#c8c9cb"/><rect x="160" y="400" width="20" height="20" fill="#cbccce"/><rect x="180" y="400" width="20" height="20" fill="#cecfd1"/><rect x="200" y="400" width="20" height="20" fill="#d1d1d3"/><rect x="220" y="400" width="20" height="20" fill="#d3d4d5"/><rect x="240" y="400" width="20" height="20" fill="#d5d6d6"/><rect x="260" y="400" width="20" height="20" fill="#d7d7d8"/><rect x="280" y="400" width="20" height="20" fill="#d8d9d9"/><rect x="300" y="400" width="20" height="20" fill="#dadada"/><rect x="320" y="400" width="20" height="20" fill="#dadada"/><rect x="340" y="400" width="20" height="20" fill="#dadada"/><rect x="360" y="400" width="20" height="20" fill="#dad9d9"/><rect x="380" y="400" width="20" height="20" fill="#d9d7d8"/><rect x="400" y="400" width="20" height="20" fill="#d7d5d6"/><rect x="420" y="400" width="20" height="20" fill="#d5d3d3"/><rect x="440" y="400" width="20" height="20" fill="#d2cfd0"/><rect x="460" y="400" width="20" height="20" fill="#cfcccc"/><rect x="480" y="400" width="20" height="20" fill="#ccc8c9"/><rect x="500" y="400" width="20" height="20" fill="#c8c4c5"/><rect x="520" y="400" width="20" height="20" fill="#c4c0c0"/><rect x="540" y="400" width="20" height="20" fill="#c0bbbc"/><rect x="560" y="400" width="20" height="20" fill="#bbb6b7"/><rect x="580" y="400" width="20" height="20" fill="#b6b0b1"/><rect x="600" y="400" width="20" height="20" fill="#b0aaab"/><rect x="620" y="400" width="20" height="20" fill="#ada7a8"/><rect x="640" y="400" width="20" height="20" fill="#ada7a8"/><rect x="660" y="400" width="20" height="20" fill="#ada7a8"/><rect x="-40" y="420" width="20" height="20" fill="#a7aaae"/><rect x="-20" y="420" width="20" height="20" fill="#a7aaae"/><rect x="0" y="420" width="20" height="20" fill="#a9acb0"/><rect x="20" y="420" width="20" height="20" fill="#adafb3"/><rect x="40" y="420" width="20" height="20" fill="#b1b3b6"/><rect x="60" y="420" width="20" height="20" fill="#b4b6b9"/><rect x="80" y="420" width="20" height="20" fill="#b8babd"/><rect x="100" y="420" width="20" height="20" fill="#bbbdc0"/><rect x="120" y="420" width="20" height="20" fill="#bfc0c3"/><rect x="140" y="420" width="20" height="20" fill="#c2c3c5"/><rect x="160" y="420" width="20" height="20" fill="#c5c6c8"/><rect x="180" y="420" width="20" height="20" fill="#c8c9cb"/><rect x="200" y="420" width="20" height="20" fill="#cbcccd"/><rect x="220" y="420" width="20" height="20" fill="#cececf"/><rect x="240" y="420" width="20" height="20" fill="#d0d1d1"/><rect x="260" y="420" width="20" height="20" fill="#d2d2d3"/><rect x="280" y="420" width="20" height="20" fill="#d4d4d4"/><rect x="300" y="420" width="20" height="20" fill="#d5d5d5"/><rect x="320" y="420" width="20" height="20" fill="#d6d5d5"/><rect x="340" y="420" width="20" height="20" fill="#d6d5d5"/><rect x="360" y="420" width="20" height="20" fill="#d5d4d4"/><rect x="380" y="420" width="20" height="20" fill="#d4d3d3"/><rect x="400" y="420" width="20" height="20" fill="#d3d1d1"/><rect x="420" y="420" width="20" height="20" fill="#d0cece"/><rect x="440" y="420" width="20" height="20" fill="#cdcacb"/><rect x="460" y="420" width="20" height="20" fill="#cac7c8"/><rect x="480" y="420" width="20" height="20" fill="#c7c4c4"/><rect x="500" y="420" width="20" height="20" fill="#c4c0c1"/><rect x="520" y="420" width="20" height="20" fill="#c2bdbe"/><rect x="540" y="420" width="20" height="20" fill="#bfbabb"/><rect x="560" y="420" width="20" height="20" fill="#bcb7b8"/><rect x="580" y="420" width="20" height="20" fill="#b9b4b4"/><rect x="600" y="420" width="20" height="20" fill="#b6afb0"/><rect x="620" y="420" width="20" height="20" fill="#b3adae"/><rect x="640" y="420" width="20" height="20" fill="#b3adae"/><rect x="660" y="420" width="20" height="20" fill="#b3adae"/><rect x="-40" y="440" width="20" height="20" fill="#a5a8ac"/><rect x="-20" y="440" width="20" height="20" fill="#a5a8ac"/><rect x="0" y="440" width="20" height="20" fill="#a7a9ad"/><rect x="20" y="440" width="20" height="20" fill="#aaadb0"/><rect x="40" y="440" width="20" height="20" fill="#aeb0b3"/><rect x="60" y="440" width="20" height="20" fill="#b1b3b6"/><rect x="80" y="440" width="20" height="20" fill="#b4b6b9"/><rect x="100" y="440" width="20" height="20" fill="#b7b9bb"/><rect x="120" y="440" width="20" height="20" fill="#babcbe"/><rect x="140" y="440" width="20" height="20" fill="#bdbfc1"/><rect x="160" y="440" width="20" height="20" fill="#c1c2c3"/><rect x="180" y="440" width="20" height="20" fill="#c4c5c6"/><rect x="200" y="440" width="20" height="20" fill="#c6c7c9"/><rect x="220" y="440" width="20" height="20" fill="#c9cacb"/><rect x="240" y="440" width="20" height="20" fill="#cbcccd"/><rect x="260" y="440" width="20" height="20" fill="#cecece"/><rect x="280" y="440" width="20" height="20" fill="#cfcfd0"/><rect x="300" y="440" width="20" height="20" fill="#d0d0d0"/><rect x="320" y="440" width="20" height="20" fill="#d1d1d1"/><rect x="340" y="440" width="20" height="20" fill="#d1d0d0"/><rect x="360" y="440" width="20" height="20" fill="#d1d0d0"/><rect x="380" y="440" width="20" height="20" fill="#d0cece"/><rect x="400" y="440" width="20" height="20" fill="#cecccc"/><rect x="420" y="440" width="20" height="20" fill="#cccaca"/><rect x="440" y="440" width="20" height="20" fill="#c9c7c7"/><rect x="460" y="440" width="20" height="20" fill="#c7c3c4"/><rect x="480" y="440" width="20" height="20" fill="#c4c0c1"/><rect x="500" y="440" width="20" height="20" fill="#c2bebe"/><rect x="520" y="440" width="20" height="20" fill="#c0bbbc"/><rect x="540" y="440" width="20" height="20" fill="#bfbabb"/><rect x="560" y="440" width="20" height="20" fill="#beb9b9"/><rect x="580" y="440" width="20" height="20" fill="#bdb7b8"/><rect x="600" y="440" width="20" height="20" fill="#bbb4b5"/><rect x="620" y="440" width="20" height="20" fill="#b8b2b3"/><rect x="640" y="440" width="20" height="20" fill="#b8b2b3"/><rect x="660" y="440" width="20" height="20" fill="#b8b2b3"/><rect x="-40" y="460" width="20" height="20" fill="#a4a6aa"/><rect x="-20" y="460" width="20" height="20" fill="#a4a6aa"/><rect x="0" y="460" width="20" height="20" fill="#a5a8ac"/><rect x="20" y="460" width="20" height="20" fill="#a8abae"/><rect x="40" y="460" width="20" height="20" fill="#abaeb1"/><rect x="60" y="460" width="20" height="20" fill="#aeb0b3"/><rect x="80" y="460" width="20" height="20" fill="#b1b3b6"/><rect x="100" y="460" width="20" height="20" fill="#b4b6b9"/><rect x="120" y="460" width="20" height="20" fill="#b7b9bb"/><rect x="140" y="460" width="20" height="20" fill="#babcbe"/><rect x="160" y="460" width="20" height="20" fill="#bebfc0"/><rect x="180" y="460" width="20" height="20" fill="#c0c1c3"/><rect x="200" y="460" width="20" height="20" fill="#c3c4c5"/><rect x="220" y="460" width="20" height="20" fill="#c6c6c8"/><rect x="240" y="460" width="20" height="20" fill="#c8c9c9"/><rect x="260" y="460" width="20" height="20" fill="#cacbcb"/><rect x="280" y="460" width="20" height="20" fill="#cccccc"/><rect x="300" y="460" width="20" height="20" fill="#cdcdcd"/><rect x="320" y="460" width="20" height="20" fill="#cecdcd"/><rect x="340" y="460" width="20" height="20" fill="#cecdcd"/><rect x="360" y="460" width="20" height="20" fill="#cecccd"/><rect x="380" y="460" width="20" height="20" fill="#cdcbcb"/><rect x="400" y="460" width="20" height="20" fill="#cbc9ca"/><rect x="420" y="460" width="20" height="20" fill="#c9c7c7"/><rect x="440" y="460" width="20" height="20" fill="#c7c4c5"/><rect x="460" y="460" width="20" height="20" fill="#c5c2c2"/><rect x="480" y="460" width="20" height="20" fill="#c3bfc0"/><rect x="500" y="460" width="20" height="20" fill="#c1bdbd"/><rect x="520" y="460" width="20" height="20" fill="#bfbbbc"/><rect x="540" y="460" width="20" height="20" fill="#bfbabb"/><rect x="560" y="460" width="20" height="20" fill="#bfb9ba"/><rect x="580" y="460" width="20" height="20" fill="#beb8b9"/><rect x="600" y="460" width="20" height="20" fill="#bcb6b7"/><rect x="620" y="460" width="20" height="20" fill="#bab4b5"/><rect x="640" y="460" width="20" height="20" fill="#bab4b5"/><rect x="660" y="460" width="20" height="20" fill="#bab4b5"/><rect x="-40" y="480" width="20" height="20" fill="#a4a6aa"/><rect x="-20" y="480" width="20" height="20" fill="#a4a6aa"/><rect x="0" y="480" width="20" height="20" fill="#a5a8ac"/><rect x="20" y="480" width="20" height="20" fill="#a8abae"/><rect x="40" y="480" width="20" height="20" fill="#abaeb1"/><rect x="60" y="480" width="20" height="20" fill="#aeb0b3"/><rect x="80" y="480" width="20" height="20" fill="#b1b3b6"/><rect x="100" y="480" width="20" height="20" fill="#b4b6b9"/><rect x="120" y="480" width="20" height="20" fill="#b7b9bb"/><rect x="140" y="480" width="20" height="20" fill="#babcbe"/><rect x="160" y="480" width="20" height="20" fill="#bebfc0"/><rect x="180" y="480" width="20" height="20" fill="#c0c1c3"/><rect x="200" y="480" width="20" height="20" fill="#c3c4c5"/><rect x="220" y="480" width="20" height="20" fill="#c6c6c8"/><rect x="240" y="480" width="20" height="20" fill="#c8c9c9"/><rect x="260" y="480" width="20" height="20" fill="#cacbcb"/><rect x="280" y="480" width="20" height="20" fill="#cccccc"/><rect x="300" y="480" width="20" height="20" fill="#cdcdcd"/><rect x="320" y="480" width="20" height="20" fill="#cecdcd"/><rect x="340" y="480" width="20" height="20" fill="#cecdcd"/><rect x="360" y="480" width="20" height="20" fill="#cecccd"/><rect x="380" y="480" width="20" height="20" fill="#cdcbcb"/><rect x="400" y="480" width="20" height="20" fill="#cbc9ca"/><rect x="420" y="480" width="20" height="20" fill="#c9c7c7"/><rect x="440" y="480" width="20" height="20" fill="#c7c4c5"/><rect x="460" y="480" width="20" height="20" fill="#c5c2c2"/><rect x="480" y="480" width="20" height="20" fill="#c3bfc0"/><rect x="500" y="480" width="20" height="20" fill="#c1bdbd"/><rect x="520" y="480" width="20" height="20" fill="#bfbbbc"/><rect x="540" y="480" width="20" height="20" fill="#bfbabb"/><rect x="560" y="480" width="20" height="20" fill="#bfb9ba"/><rect x="580" y="480" width="20" height="20" fill="#beb8b9"/><rect x="600" y="480" width="20" height="20" fill="#bcb6b7"/><rect x="620" y="480" width="20" height="20" fill="#bab4b5"/><rect x="640" y="480" width="20" height="20" fill="#bab4b5"/><rect x="660" y="480" width="20" height="20" fill="#bab4b5"/><rect x="-40" y="500" width="20" height="20" fill="#a4a6aa"/><rect x="-20" y="500" width="20" height="20" fill="#a4a6aa"/><rect x="0" y="500" width="20" height="20" fill="#a5a8ac"/><rect x="20" y="500" width="20" height="20" fill="#a8abae"/><rect x="40" y="500" width="20" height="20" fill="#abaeb1"/><rect x="60" y="500" width="20" height="20" fill="#aeb0b3"/><rect x="80" y="500" width="20" height="20" fill="#b1b3b6"/><rect x="100" y="500" width="20" height="20" fill="#b4b6b9"/><rect x="120" y="500" width="20" height="20" fill="#b7b9bb"/><rect x="140" y="500" width="20" height="20" fill="#babcbe"/><rect x="160" y="500" width="20" height="20" fill="#bebfc0"/><rect x="180" y="500" width="20" height="20" fill="#c0c1c3"/><rect x="200" y="500" width="20" height="20" fill="#c3c4c5"/><rect x="220" y="500" width="20" height="20" fill="#c6c6c8"/><rect x="240" y="500" width="20" height="20" fill="#c8c9c9"/><rect x="260" y="500" width="20" height="20" fill="#cacbcb"/><rect x="280" y="500" width="20" height="20" fill="#cccccc"/><rect x="300" y="500" width="20" height="20" fill="#cdcdcd"/><rect x="320" y="500" width="20" height="20" fill="#cecdcd"/><rect x="340" y="500" width="20" height="20" fill="#cecdcd"/><rect x="360" y="500" width="20" height="20" fill="#cecccd"/><rect x="380" y="500" width="20" height="20" fill="#cdcbcb"/><rect x="400" y="500" width="20" height="20" fill="#cbc9ca"/><rect x="420" y="500" width="20" height="20" fill="#c9c7c7"/><rect x="440" y="500" width="20" height="20" fill="#c7c4c5"/><rect x="460" y="500" width="20" height="20" fill="#c5c2c2"/><rect x="480" y="500" width="20" height="20" fill="#c3bfc0"/><rect x="500" y="500" width="20" height="20" fill="#c1bdbd"/><rect x="520" y="500" width="20" height="20" fill="#bfbbbc"/><rect x="540" y="500" width="20" height="20" fill="#bfbabb"/><rect x="560" y="500" width="20" height="20" fill="#bfb9ba"/><rect x="580" y="500" width="20" height="20" fill="#beb8b9"/><rect x="600" y="500" width="20" height="20" fill="#bcb6b7"/><rect x="620" y="500" width="20" height="20" fill="#bab4b5"/><rect x="640" y="500" width="20" height="20" fill="#bab4b5"/><rect x="660" y="500" width="20" height="20" fill="#bab4b5"/></g></svg>
<svg id="dr" width="620" height="465" viewBox="0 0 620 465">
<defs><filter id="mb" x="-5%" y="-5%" width="110%" height="110%"><feGaussianBlur stdDeviation="0.45 0.9"/></filter></defs>
<g filter="url(#mb)">
<g fill="none" stroke="#57535e" stroke-width="1.4" stroke-linecap="round" stroke-linejoin="round">
<!-- ===== TOP: 6m dimension ===== -->
<path d="M205 35 L205.5 43.5 M209.5 35 L205.5 39.5 L209.5 43.5" stroke-width="1.2"/>
<path d="M209.5 38.6 L272 38.6" stroke="#8c8880" stroke-width="0.9"/>
<path d="M304 40.5 L340 41" stroke="#a8a6a2" stroke-width="0.82"/>
<path d="M374 41 L376 44 L378.5 41 M376 44 L376 47.5" stroke-width="1.1"/>
<!-- sunroom top line + dashed terrace top -->
<path d="M200 50.5 L376 53.5" stroke-width="1.3"/>
<path d="M92.6 51 L95 51 M103 51 L107 51 M112 51 L114.5 51 M118 51 L122 51 M127 51 L132.6 51 M139 51 L152 51 M163.5 50.8 L176.5 50.8 M184 50.7 L194.5 50.7" stroke="#7c7870" stroke-width="1.1"/>
<path d="M212 48.5 L212 55 M368.8 51 L368.8 60" stroke-width="1.6"/>
<!-- sunroom right wall (thin upper part) -->
<path d="M376 53.5 L376.2 138.5" stroke-width="0.9" stroke="#6a6670"/>
<!-- terrace left dashed -->
<path d="M88.5 50 L88.5 60.6 M88.3 68 L88.3 78.7 M88 84 L88 94" stroke-width="1.4"/>
<!-- steps box -->
<path d="M57.7 95 L87.3 95 M57.7 95 L57.7 130 M64.9 95 L64.9 130 M73.1 95 L73.1 130 M79.6 95 L79.6 130 M54 130.6 L80 130.6" stroke="#8e8c90" stroke-width="0.9"/>
<!-- right dashed terrace x=200 -->
<path d="M199.6 50 L199.6 58.5 M199.6 63 L199.6 74.5 M199.6 79.5 L199.6 89.5 M199.6 95.5 L199.6 105.5" stroke-width="1.1"/>
<path d="M196 105.5 L203 105.5" stroke-width="1.1"/>
<!-- 3m arrow up -->
<path d="M194.7 77 L194.7 51.5 M192 57 L194.7 51.5 L197.8 57" stroke-width="1.2"/>
<!-- door diagonal + arrow down -->
<path d="M202 106.7 L210.8 131.5" stroke-width="1.2"/>
<path d="M193.4 114 L193.4 132 M191 127 L193.4 132 L196 127" stroke="#85827e" stroke-width="1.1"/>
<!-- main top walls -->
<path d="M28.4 134.5 L85.6 134.8 M143.2 135.2 L219.8 135.4" stroke-width="1.5"/>
<path d="M105.5 130.4 L110.6 130.4" stroke="#b0aeaa" stroke-width="0.82"/>
<!-- left walls and dims -->
<path d="M28.4 134.7 L28.2 176.6 M25.5 176.6 L31 176.6" stroke-width="1.4"/>
<path d="M11.6 175.3 L14.8 136.6 M12.4 142.4 L14.8 136.6 L18.7 142.4 M11.6 133.8 L21.3 133.8" stroke-width="1.1"/>
<path d="M23.7 196.5 L23.7 228.7 M21 196.5 L26.4 196.5" stroke-width="1.1"/>
<path d="M21.5 250.3 L21.5 297 M19 250.3 L24 250.3" stroke-width="1.3"/>
<path d="M6.9 240 L6 295.2 M3.4 288.5 L6 295.5 L8.5 288.5" stroke-width="1.1"/>
<path d="M0 296.5 L108 297.5 M103.5 294.5 L108 297.5 L103.5 300.5" stroke-width="1.2"/>
<path d="M18 311.8 L73 312.3 M23 308.5 L18 311.8 L23 315.2 M18 307.5 L18 316.5" stroke-width="0.98"/>
<!-- main vertical wall -->
<path d="M200 134 L197.5 232 L194.6 355 M194.3 376.5 L194.3 393 L240.5 393.5" stroke-width="1.6"/>
<!-- Wanne -->
<path d="M144.5 234 L196 234 M144.5 234 L144.5 252 M144.5 249 L196 249 M141.5 252 L147.5 252" stroke-width="0.98"/>
<!-- WC -->
<path d="M142 272 L142 298 M139.5 272 L144.5 272" stroke-width="1.1"/>
<path d="M153 285 Q149 275 157 274 Q165 274 161 285 M153 285 L153 292 L149 292 L149 298.5 M161 285 L161 292 L168 292 L168 298.5" stroke-width="1" stroke="#6a6672"/>
<path d="M168.6 283 L195 283 M169 283 Q172 296 182 296 Q192 296 195 283" stroke-width="1.1" stroke="#6a6672"/>
<path d="M145 300 L196 300" stroke-width="0.98"/>
<path d="M181 302 L179.3 339 M178.3 308 L181.5 301.5 L184.7 308" stroke-width="1.1"/>
<path d="M150 314.5 L192 314.5 M187 311.5 L192 314.5 L187 317.5" stroke="#888" stroke-width="0.9"/>
<!-- Kamin -->
<path d="M226.7 249 L281.9 249 L281.9 285 L226.7 285 Z" stroke-width="1.1"/>
<path d="M241 246.5 L241 251.5 M265 246.5 L265 251.5 M241 282.5 L241 287.5 M265 282.5 L265 287.5 M226.7 282.5 L226.7 287.5 M281.9 282.5 L281.9 287.5" stroke-width="1.6"/>
<!-- 3,5 arrow -->
<path d="M178 368 L178 390 M175 384 L178 390.5 L181 384 M173.5 391 L182.5 391" stroke-width="1.1"/>

<!-- inner Kueche -->
<path d="M298.8 138 L316.3 138 M301.3 138 L301.3 152.5 L361 153 L359.5 226 M358.8 226 L386.3 226" stroke-width="1.4"/>
<path d="M308.8 153 L308.8 165 M308.8 172 L308.8 190 M308.8 200 L308.8 215 M308.8 222 L308.8 240 M308.8 248 L308.8 262 M308.5 268 L308.5 272" stroke-width="1" stroke="#6e6a74"/>
<!-- Keller -->
<path d="M362.5 138.5 L383.8 138.5 M379.5 135.5 L384 138.5 L379.5 141.5" stroke-width="1.2"/>
<path d="M383.8 142.3 L421.3 139.8 M412.5 137.5 L412.5 142.5" stroke-width="1.1"/>
<path d="M376.2 138.5 L376.2 226" stroke-width="1.9"/>
<path d="M421.3 139.8 L421.3 214.8" stroke-width="0.9" stroke="#7a7680"/>
<path d="M377.5 211 L418 211 M382 208 L377.5 211 L382 214 M414 208 L418.5 211 L414 214 M421 208 L425.5 211 M421 214 L425.5 211" stroke-width="0.9" stroke="#666"/>
<path d="M377.5 213.6 L420 213.6" stroke="#a09ea0" stroke-width="0.82"/>
<path d="M426 209.8 L451.6 209.4 M430 207 L426 209.8 L430 212.8" stroke-width="0.9" stroke="#6a6672"/>
<path d="M496.6 211.4 L511 211.4 M506 208 L511 211.4 L506 214.8" stroke-width="0.98"/>
<!-- Bad -->
<path d="M414.8 228 L435.5 228 M431 225 L435.5 228 L431 231" stroke-width="1.2"/>
<path d="M485 227.5 L485 232" stroke-width="1.6"/>
<path d="M496.6 230 L524.2 230" stroke-width="1.3"/>
<path d="M511 230 L511.6 395" stroke-width="1.6"/>
<path d="M421 228.7 L429 267.4 M421.3 267 L421.3 278" stroke-width="1.2"/>
<path d="M426.5 278 A14.75 11 0 0 1 456 278" stroke-width="1.1"/>
<path d="M441 273.5 L441 274.5" stroke-width="1.5"/>
<path d="M415 278.2 L511.6 278.7" stroke-width="1.2"/>
<path d="M457.4 259.8 L457.4 278.7 M457.4 259.8 L511 259.8" stroke-width="0.98"/>
<path d="M502.4 261.3 Q509 266 511 275.8" stroke-width="0.98"/>
<path d="M503.5 239.5 Q495 238.5 494.8 244 Q495 249.5 503.5 249 M503.5 239.5 L503.5 249 M503.5 238.3 L509.4 238.3 M508.3 238.3 L508.3 246.5" stroke-width="1.2" stroke="#5a5660"/>
<path d="M522.7 231 L522.7 278.5 M519.7 237 L522.7 231 L525.7 237 M519.7 273 L522.7 278.7 L525.7 273" stroke-width="0.98"/>
<path d="M522.7 281 L522.7 395 M519.7 287 L522.7 281 L525.7 287 M519.7 389 L522.7 395 L525.7 389 M517 395.5 L528 395.5" stroke-width="0.98"/>
<path d="M380 274.8 L411 281.6" stroke-width="1.1"/>
<!-- Flur -->
<path d="M315.8 271 L315.6 330 M315.2 337 L314.5 370 L315.5 397 L321.6 428.7" stroke-width="1.15" stroke="#66626c"/>
<path d="M312.5 308.4 L319 308.4" stroke-width="1" stroke="#88868c"/>
<path d="M308 271 L325 271" stroke-width="1.1"/>
<path d="M346.8 272 L346.8 365 L373 365" stroke-width="0.9" stroke="#6e6a72"/>
<path d="M348 279 L373 279 M348 290 L373 290 M348 304 L373 304 M348 317.5 L373 317.5 M348 331 L373 331 M348 343 L373 343 M348 356 L373 356" stroke-width="0.82" stroke="#9a989c"/>
<path d="M328.7 264 L346.8 272 L375 272" stroke-width="1.1"/>
<path d="M375.5 262 L375.8 411.8 M375.8 423 L375.8 442.2" stroke-width="1.8"/>
<!-- bottom walls -->
<path d="M261.8 393.7 L436.5 395.6 M456.7 395.6 L511 395.6" stroke-width="1.3"/>
<path d="M268.5 394.8 L268.5 441 L313.7 441" stroke-width="1.1"/>
<path d="M272 429 L310 429 M272 435.5 L310 435.5" stroke-width="0.98" stroke="#9a989c"/>
<path d="M314.8 430 L314.8 441.8 L337.4 441.8 M337.4 438 L337.4 444 M354.3 438 L354.3 444 M354.3 441.8 L375.8 441.8" stroke-width="1.1"/>
<path d="M336.3 387 L358.8 394.8" stroke-width="1.1"/>
<path d="M313.7 452.4 L376.9 452.4 M318 449 L313.7 452.4 L318 456 M313.3 447 L313.3 458 M372.5 449 L376.9 452.4 L372.5 456 M376.9 446 L376.9 458" stroke-width="0.98"/>
<path d="M376 406.5 L511 407 M381 403.5 L376 406.5 L381 409.5 M506 404 L511 407 L506 410 M511 402 L511 412" stroke-width="0.98"/>
<!-- North arrow -->
<path d="M559.8 421 L579.3 439.2 M569.9 439.2 L579.3 439.2 L577.9 429" stroke-width="1.1"/>
<path d="M583 455.9 L590.2 438.5 L591.7 450.8 L597.5 436.3" stroke-width="1.3"/>
<path d="M477.5 91.5 L485 91 M480 106.5 L488.8 106" stroke="#2a2630" stroke-width="1.8"/>
</g>
<g fill="#625e68" font-style="italic" font-family="Liberation Sans, sans-serif">
<text x="108" y="75" font-size="13.8" textLength="54.0" lengthAdjust="spacing">Terrasse</text>
<text x="110.6" y="90" font-size="13.8" textLength="45.2" lengthAdjust="spacing">10,5m²</text>
<text x="280" y="44" font-size="13.8" textLength="22.0" lengthAdjust="spacing">6m</text>
<text x="235" y="63.5" font-size="12.6" textLength="68.8" lengthAdjust="spacing">5 Fenster</text>
<text x="232.5" y="92.5" font-size="13.8" textLength="63.5" lengthAdjust="spacing">Sunroom</text>
<text x="310" y="94" font-size="13.8" textLength="28.8" lengthAdjust="spacingAndGlyphs">18m²</text>
<text x="178.6" y="98" font-size="12.6" textLength="16.1" lengthAdjust="spacingAndGlyphs">3m</text>
<text x="151.6" y="177.4" font-size="13.8" textLength="40.0" lengthAdjust="spacing">Küche</text>
<text x="71" y="219.7" font-size="19.5" textLength="18.0" lengthAdjust="spacingAndGlyphs">33</text>
<text x="89" y="223" font-size="12.6" textLength="16.8" lengthAdjust="spacingAndGlyphs">m</text>
<text x="108" y="214.5" font-size="11.5" textLength="8.0" lengthAdjust="spacingAndGlyphs">2</text>
<text x="117.4" y="221" font-size="16.1" textLength="33.6" lengthAdjust="spacing">alles</text>
<text x="0" y="218.4" font-size="12.6" textLength="19.4" lengthAdjust="spacingAndGlyphs">7,8m</text>
<text x="79" y="318" font-size="11.5" textLength="18.0" lengthAdjust="spacing">6m</text>
<text x="235" y="348.5" font-size="14.9" textLength="35.0" lengthAdjust="spacing">Wozi</text>
<text x="235" y="366" font-size="14.9" textLength="42.6" lengthAdjust="spacing">32 m²</text>
<text x="172" y="360" font-size="11.5" textLength="16.5" lengthAdjust="spacing">3,5</text>
<text x="307.5" y="181" font-size="13.8" textLength="35.0" lengthAdjust="spacingAndGlyphs">Küche</text>
<text x="307.5" y="197" font-size="12.6" textLength="33.5" lengthAdjust="spacing">7,5m²</text>
<text x="383.8" y="166" font-size="12.6" textLength="36.2" lengthAdjust="spacingAndGlyphs">Keller-</text>
<text x="383.8" y="184.5" font-size="12.6" textLength="36.2" lengthAdjust="spacingAndGlyphs">abgang</text>
<text x="391" y="214" font-size="9.2" textLength="20.0" lengthAdjust="spacingAndGlyphs">1,5m</text>
<text x="458.9" y="214.8" font-size="14.9" textLength="21.7" lengthAdjust="spacingAndGlyphs">3,10</text>
<text x="443" y="244" font-size="13.8" textLength="20.0" lengthAdjust="spacingAndGlyphs">Bad</text>
<text x="444" y="255.5" font-size="12.6" textLength="23.6" lengthAdjust="spacing">5m²</text>
<text x="460" y="268.5" font-size="10.3" textLength="28.0" lengthAdjust="spacing">Whirl</text>
<text x="476" y="277" font-size="10.3" textLength="23.5" lengthAdjust="spacing">pool</text>
<text x="517" y="261.3" font-size="10.3" textLength="29.0" lengthAdjust="spacing">1,60m</text>
<text x="406" y="320" font-size="14.9" textLength="63.0" lengthAdjust="spacing">Schlafzi.</text>
<text x="426.5" y="334" font-size="13.8" textLength="44.5" lengthAdjust="spacing">15,3m²</text>
<text x="515" y="336" font-size="11.5" textLength="24.0" lengthAdjust="spacingAndGlyphs">3,4m</text>
<text x="434.5" y="415" font-size="11.5" textLength="30.3" lengthAdjust="spacing">4,5m</text>
<text x="328.7" y="330" font-size="11.5" textLength="24.3" lengthAdjust="spacing">Flur</text>
<text x="335" y="349.4" font-size="12.6" textLength="30.0" lengthAdjust="spacingAndGlyphs">8,2m²</text>
<text x="329.5" y="437.7" font-size="10.3" textLength="24.8" lengthAdjust="spacing">3m²</text>
<text x="343" y="459" font-size="11.5" textLength="18.0" lengthAdjust="spacing">2m</text>
</g>
<g fill="#46424e" stroke="#46424e" stroke-width="0.2" font-family="Liberation Sans, sans-serif">
<text x="329.5" y="428.7" font-size="14" textLength="30.5" lengthAdjust="spacing">flur</text>
<text x="327" y="411.8" font-size="14" textLength="28.5" lengthAdjust="spacing">Ver-</text>
<text x="237" y="266" font-size="11" textLength="37.0" lengthAdjust="spacing">Kamin</text>
<text x="151" y="248" font-size="10" textLength="34.0" lengthAdjust="spacing">Wanne</text>
<text x="273" y="425" font-size="12" textLength="37.0" lengthAdjust="spacing">Stufen</text>
</g>
<g fill="#2a2630" stroke="#2a2630" stroke-width="0.2" font-family="Liberation Sans, sans-serif">
<text x="470" y="74" font-size="15" textLength="26.0" lengthAdjust="spacing">Alle</text>
<text x="506" y="75" font-size="15" textLength="41.5" lengthAdjust="spacing">Maße</text>
<text x="557.5" y="75" font-size="14" textLength="26.5" lengthAdjust="spacing">sind</text>
<text x="592.5" y="78" font-size="15" textLength="28.5" lengthAdjust="spacingAndGlyphs">Inne</text>
<text x="495" y="98" font-size="14" textLength="55.0" lengthAdjust="spacing">Parterre</text>
<text x="567.5" y="99" font-size="14" textLength="36.5" lengthAdjust="spacing">91m²</text>
<text x="494" y="115" font-size="14" textLength="123.5" lengthAdjust="spacing">Gästeappartment</text>
</g>
</g></svg>
</body></html>
